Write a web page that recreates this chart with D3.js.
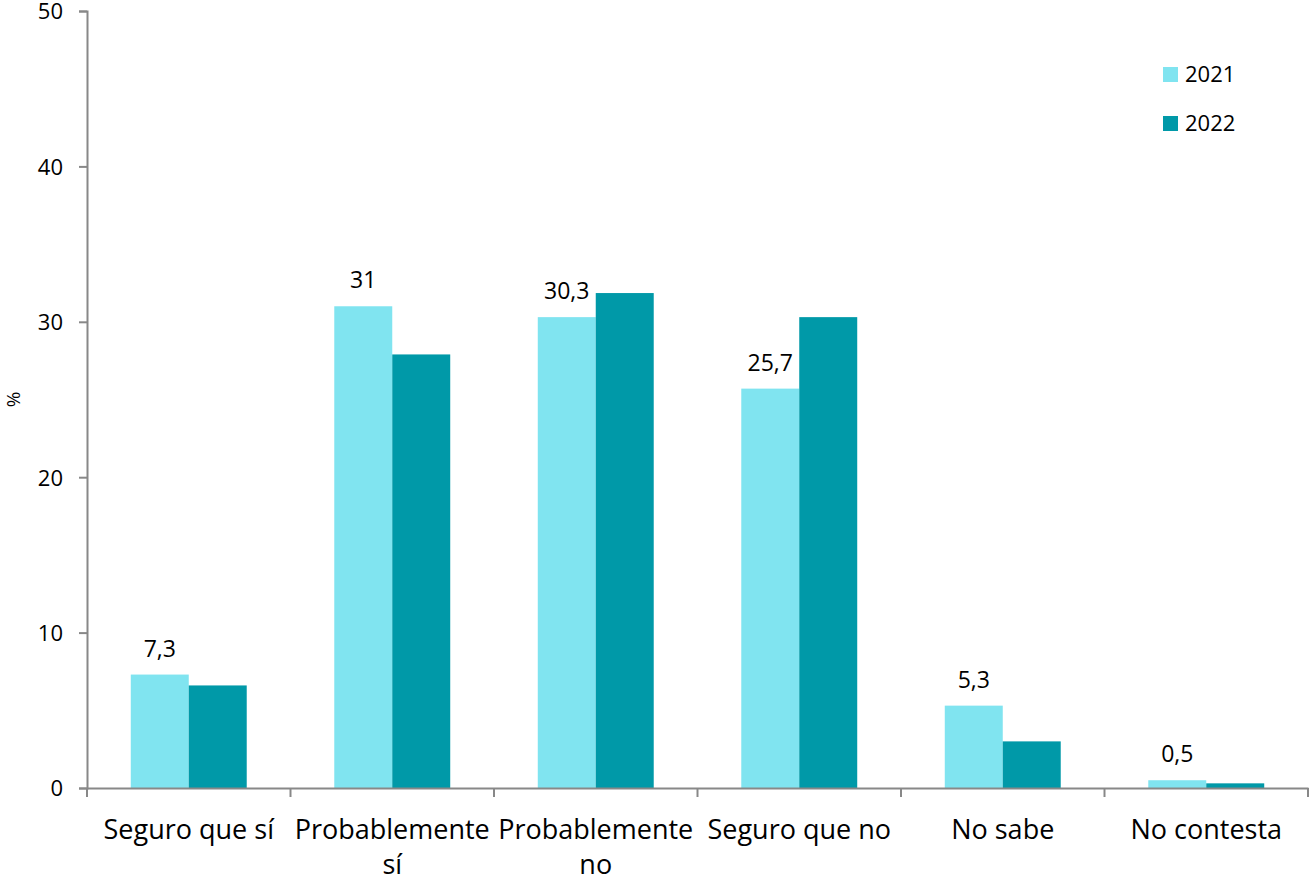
<!DOCTYPE html>
<html><head><meta charset="utf-8">
<script src="https://cdn.jsdelivr.net/npm/d3@7"></script>
<style>body{margin:0;background:#fff;}svg{display:block;font-family:"Open Sans",Lato,sans-serif;}</style>
</head><body>
<svg id="c" width="1309" height="882"></svg>
<script>
const categories = ["Seguro que sí", "Probablemente sí", "Probablemente no", "Seguro que no", "No sabe", "No contesta"];
const categoryLines = [["Seguro que sí"], ["Probablemente", "sí"], ["Probablemente", "no"], ["Seguro que no"], ["No sabe"], ["No contesta"]];
const series = ["2021", "2022"];
const values2021 = [7.3, 31, 30.3, 25.7, 5.3, 0.5];
const values2022 = [6.6, 27.9, 31.85, 30.3, 3.0, 0.3];
const labels2021 = ["7,3", "31", "30,3", "25,7", "5,3", "0,5"];
const yTicks = [0, 10, 20, 30, 40, 50];
const colors = ["#80E4F0", "#0099A8"];

const FONT = "'Open Sans', Lato, sans-serif";
const svg = d3.select("#c");
const m = {l: 87, r: 1, t: 11, b: 94};
const W = 1309, H = 882;
const x = d3.scaleBand().domain(categories).range([m.l, W - m.r]).paddingInner(0).paddingOuter(0);
const x1 = d3.scaleBand().domain(series).range([0, x.bandwidth()]).paddingInner(0).paddingOuter(0.755);
const y = d3.scaleLinear().domain([0, 50]).range([H - m.b, m.t]);

const data = categories.map((c, i) => ({c, v: [values2021[i], values2022[i]], lab: labels2021[i], lines: categoryLines[i]}));

const g = svg.append("g");
data.forEach(d => {
  series.forEach((s, j) => {
    g.append("rect")
      .attr("x", x(d.c) + x1(s))
      .attr("y", y(d.v[j]))
      .attr("width", x1.bandwidth())
      .attr("height", y(0) - y(d.v[j]))
      .attr("fill", colors[j]);
  });
  g.append("text")
    .attr("x", x(d.c) + x1("2021") + x1.bandwidth() / 2)
    .attr("y", y(d.v[0]) - 18)
    .attr("text-anchor", "middle")
    .attr("font-size", 23)
    .attr("fill", "#000")
    .text(d.lab);
});

// Y axis
const yAxis = svg.append("g").attr("transform", `translate(${m.l},0)`)
  .call(d3.axisLeft(y).tickValues(yTicks).tickSize(8).tickPadding(16).tickFormat(d3.format("d")));
yAxis.select(".domain").attr("stroke", "#888").attr("stroke-width", 2);
yAxis.selectAll(".tick line").attr("stroke", "#888").attr("stroke-width", 2);
yAxis.selectAll(".tick text").attr("font-size", 22).attr("fill", "#000").attr("font-family", FONT).attr("dy", "0.36em");

// X axis
const xAxis = svg.append("g").attr("transform", `translate(0,${y(0)})`)
  .call(d3.axisBottom(x).tickSize(0).tickFormat(""));
xAxis.select(".domain").attr("stroke", "#888").attr("stroke-width", 2);
const bounds = categories.map(c => x(c)).concat([x(categories[categories.length - 1]) + x.bandwidth()]);
xAxis.selectAll(".bt").data(bounds).enter().append("line")
  .attr("x1", d => d).attr("x2", d => d).attr("y1", 0).attr("y2", 9)
  .attr("stroke", "#888").attr("stroke-width", 2);

data.forEach(d => {
  const t = svg.append("text")
    .attr("x", x(d.c) + x.bandwidth() / 2)
    .attr("y", y(0) + 51)
    .attr("text-anchor", "middle")
    .attr("font-size", 27)
    .attr("fill", "#000");
  d.lines.forEach((ln, k) => {
    t.append("tspan").attr("x", x(d.c) + x.bandwidth() / 2).attr("dy", k === 0 ? 0 : 35).text(ln);
  });
});

// Y label
svg.append("text")
  .attr("transform", `translate(20,${y(25)}) rotate(-90)`)
  .attr("text-anchor", "middle")
  .attr("font-size", 19)
  .text("%");

// Legend
const leg = svg.append("g").attr("transform", "translate(1163,67)");
series.forEach((s, j) => {
  leg.append("rect").attr("x", 0).attr("y", j * 49).attr("width", 15).attr("height", 15).attr("fill", colors[j]);
  leg.append("text").attr("x", 22).attr("y", j * 49 + 15).attr("font-size", 22).text(s);
});
</script>
</body></html>
